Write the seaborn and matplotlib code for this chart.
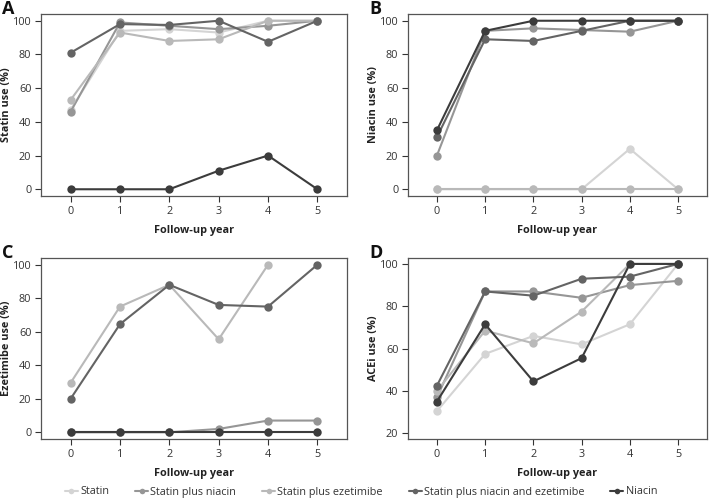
import matplotlib.pyplot as plt
from matplotlib.lines import Line2D
import seaborn as sns
import numpy as np
import pandas as pd

GROUPS = ["Statin", "Statin plus niacin", "Statin plus ezetimibe",
          "Statin plus niacin and ezetimibe", "Niacin"]
COLORS = ["#d4d4d4", "#969696", "#b9b9b9", "#646464", "#3c3c3c"]
YEARS = [0, 1, 2, 3, 4, 5]

# panel A: statin use (%)
statin_use = {
    "Statin": [47, 94, 95, 93, 100, 100],
    "Statin plus niacin": [46, 99, 97, 95, 97, 100],
    "Statin plus ezetimibe": [53, 93, 88, 89, 100, 100],
    "Statin plus niacin and ezetimibe": [81, 98, 97.5, 100, 87.5, 100],
    "Niacin": [0, 0, 0, 11, 20, 0],
}
# panel B: niacin use (%)
niacin_use = {
    "Statin": [0, 0, 0, 0, 24, 0],
    "Statin plus niacin": [20, 94, 95.5, 94.5, 93.5, 100],
    "Statin plus ezetimibe": [0, 0, 0, 0, 0, 0],
    "Statin plus niacin and ezetimibe": [31, 89, 88, 94, 100, 100],
    "Niacin": [35, 94, 100, 100, 100, 100],
}
# panel C: ezetimibe use (%)
ezetimibe_use = {
    "Statin": [0, 0, 0, 0, 0, 0],
    "Statin plus niacin": [0, 0, 0, 2, 7, 7],
    "Statin plus ezetimibe": [29.5, 75, 88, 55.5, 100, np.nan],
    "Statin plus niacin and ezetimibe": [20, 64.5, 88, 76, 75, 100],
    "Niacin": [0, 0, 0, 0, 0, 0],
}
# panel D: ACEi use (%)
acei_use = {
    "Statin": [30.5, 57.5, 66, 62, 71.5, 100],
    "Statin plus niacin": [37, 87, 87, 84, 90, 92],
    "Statin plus ezetimibe": [40, 68.5, 62.5, 77.5, 100, 100],
    "Statin plus niacin and ezetimibe": [42.5, 87, 85, 93, 94, 100],
    "Niacin": [35, 71.5, 44.5, 55.5, 100, 100],
}

PANELS = [
    ("A", "Statin use (%)", statin_use, (-4, 104), [0, 20, 40, 60, 80, 100]),
    ("B", "Niacin use (%)", niacin_use, (-4, 104), [0, 20, 40, 60, 80, 100]),
    ("C", "Ezetimibe use (%)", ezetimibe_use, (-4, 104), [0, 20, 40, 60, 80, 100]),
    ("D", "ACEi use (%)", acei_use, (17.3, 102.8), [20, 40, 60, 80, 100]),
]


def to_long(d):
    rows = []
    for g in GROUPS:
        for yr, v in zip(YEARS, d[g]):
            rows.append({"year": yr, "value": v, "group": g})
    return pd.DataFrame(rows)


sns.set_style("white")
plt.rcParams["font.family"] = ["Open Sans", "DejaVu Sans"]
TXT = "#222222"

fig = plt.figure(figsize=(7.14, 5.04), dpi=100)
W, H = 714, 504
# panel frames in pixels: left, top, width, height
boxes = [
    (41, 14, 306, 182),
    (408, 14, 299, 182),
    (41, 258, 306, 181),
    (408, 258, 299, 181),
]
palette = dict(zip(GROUPS, COLORS))

for (bx, by, bw, bh), (letter, ylabel, data, ylim, yticks) in zip(boxes, PANELS):
    ax = fig.add_axes((bx / W, 1 - (by + bh) / H, bw / W, bh / H))
    df = to_long(data)
    sns.lineplot(data=df, x="year", y="value", hue="group", hue_order=GROUPS,
                 palette=palette, marker="o", markersize=6, markeredgewidth=0,
                 linewidth=1.5, legend=False, ax=ax)
    ax.set_xlim(-0.6, 5.6)
    ax.set_ylim(*ylim)
    ax.set_xticks(YEARS)
    ax.set_yticks(yticks)
    ax.set_xlabel("Follow-up year", fontsize=7.8, fontweight="bold", color=TXT)
    ax.set_ylabel(ylabel, fontsize=7.8, fontweight="bold", color=TXT)
    ax.xaxis.set_label_coords(0.5, -29 / bh)
    ax.yaxis.set_label_coords(-29 / bw, 0.5)
    ax.tick_params(axis="both", labelsize=7.8, colors="#333333", length=4, width=0.8,
                   direction="out", bottom=True, left=True, pad=3)
    for s in ax.spines.values():
        s.set_color("#555555")
        s.set_linewidth(0.9)
    fig.text((bx - 39) / W, 1 - (by + 0.5) / H, letter, fontsize=13,
             fontweight="bold", color="#111111", ha="left", va="baseline")

handles = [Line2D([0], [0], color=c, marker="o", markersize=4, markeredgewidth=0,
                  linewidth=1.5) for c in COLORS]
fig.legend(handles, GROUPS, loc="center", bbox_to_anchor=(361 / W, 1 - 492 / H), ncol=5,
           frameon=False, fontsize=7.8, handlelength=1.2, handletextpad=0.2,
           columnspacing=2.4, labelcolor="#333333")

fig.savefig("out.png", dpi=100)
